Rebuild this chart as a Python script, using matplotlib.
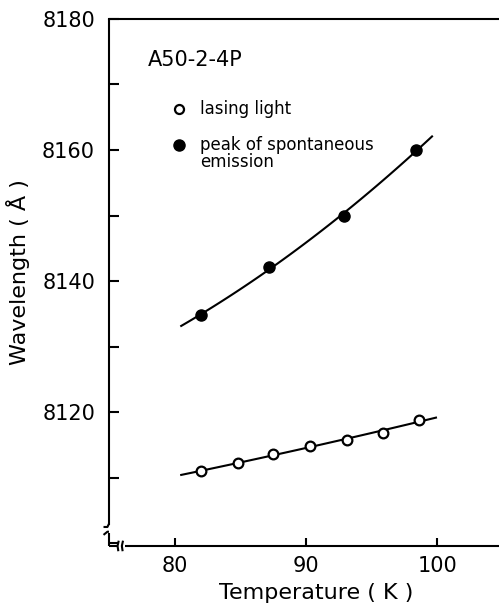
import numpy as np
import matplotlib
matplotlib.use("Agg")
import matplotlib.pyplot as plt
from matplotlib.ticker import MultipleLocator

# sample A50-2-4P, wavelength vs temperature
temp_lasing = [82.0, 84.8, 87.5, 90.3, 93.1, 95.9, 98.6]
wl_lasing = [8111.0, 8112.2, 8113.6, 8114.9, 8115.8, 8116.9, 8118.8]

temp_spont = [82.0, 87.2, 92.9, 98.4]
wl_spont = [8134.8, 8142.2, 8150.0, 8160.0]

x_ticks = [80, 90, 100]
y_ticks = [8120, 8140, 8160, 8180]

plt.rcParams['font.family'] = ['DejaVu Sans']

fig = plt.figure(figsize=(4.99, 6.10), dpi=100)
ax = fig.add_axes([0.2184, 0.105, 0.7816, 0.864])

# smooth fitted curves through each set
for tx, wy, x0, x1 in [(temp_lasing, wl_lasing, 80.5, 99.9),
                       (temp_spont, wl_spont, 80.5, 99.6)]:
    coef = np.polyfit(tx, wy, 2)
    xs = np.linspace(x0, x1, 100)
    ax.plot(xs, np.polyval(coef, xs), color='black', lw=1.5, zorder=2)

ax.plot(temp_lasing, wl_lasing, 'o', ms=7, mfc='white', mec='black', mew=1.6, zorder=3)
ax.plot(temp_spont, wl_spont, 'o', ms=8, color='black', zorder=3)

ax.set_xlim(75.0, 104.7)
ax.set_ylim(8099.6, 8180)
ax.set_xticks(x_ticks)
ax.set_yticks(y_ticks)
ax.yaxis.set_minor_locator(MultipleLocator(10))
ax.tick_params(axis='both', which='both', direction='in', width=1.5, color='black')
ax.tick_params(axis='y', which='both', length=7, pad=10, labelsize=15)
ax.tick_params(axis='x', which='both', length=6, pad=7, labelsize=15)

ax.spines['right'].set_visible(False)
ax.spines['left'].set_visible(False)
ax.spines['bottom'].set_visible(False)
ax.spines['top'].set_linewidth(1.5)

# axes lines with break marks at the lower left corner
T = ax.transAxes
kw = dict(transform=T, color='black', lw=1.5, clip_on=False, solid_capstyle='butt')
ax.plot([0, 0], [0.040, 1.0], **kw)
ax.plot([-0.014, -0.004, 0], [0.036, 0.036, 0.042], **kw)
ax.plot([0, 0], [0.0, 0.025], **kw)
ax.plot([-0.014, -0.004, 0], [0.021, 0.027, 0.027], **kw)
ax.plot([0, 0.020], [0, 0], **kw)
ax.plot([0.024, 0.022, 0.025], [-0.010, 0.0, 0.010], **kw)
ax.plot([0.035, 0.033, 0.036], [-0.010, 0.0, 0.010], **kw)
ax.plot([0.041, 1.0], [0, 0], **kw)

ax.set_xlabel('Temperature ( K )', fontsize=16)
ax.xaxis.set_label_coords(0.53, -0.070)
ax.set_ylabel('Wavelength ( Å )', fontsize=16)
ax.yaxis.set_label_coords(-0.203, 0.52)

ax.text(0.10, 0.922, 'A50-2-4P', transform=T, fontsize=15, va='center', ha='left')
ax.plot([0.180], [0.829], 'o', ms=6.5, mfc='white', mec='black', mew=1.6, transform=T, clip_on=False)
ax.text(0.233, 0.829, 'lasing light', transform=T, fontsize=12, va='center', ha='left')
ax.plot([0.180], [0.761], 'o', ms=8, color='black', transform=T, clip_on=False)
ax.text(0.233, 0.761, 'peak of spontaneous', transform=T, fontsize=12, va='center', ha='left')
ax.text(0.233, 0.729, 'emission', transform=T, fontsize=12, va='center', ha='left')

fig.savefig('out.png', dpi=100)
